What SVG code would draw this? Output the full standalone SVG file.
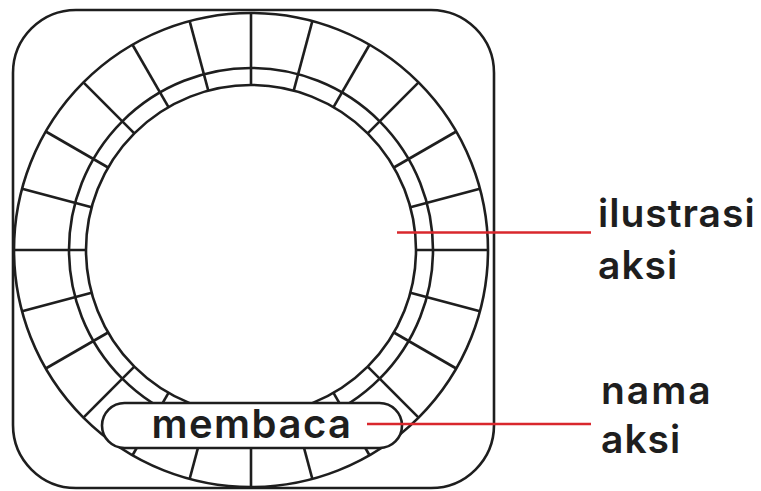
<svg xmlns="http://www.w3.org/2000/svg" xmlns:xlink="http://www.w3.org/1999/xlink" width="761" height="491" viewBox="0 0 761 491">
  <style>
    .ink { fill: none; stroke: #1e1e1e; stroke-width: 2.6; }
    .pill { fill: #ffffff; stroke: #1e1e1e; stroke-width: 2.6; }
    .leader { fill: none; stroke: #d9272d; stroke-width: 2.4; }
    .label { font-family: Inter, "Open Sans", sans-serif; font-weight: 600; fill: #1e1e1e; letter-spacing: 1px; }
  </style>
  <defs>
    <!-- one spoke of the dial, from the inner circle to the outer rim -->
    <line id="spoke" x1="416" y1="250" x2="488" y2="250"/>
  </defs>

  <!-- device frame -->
  <g id="frame">
    <rect class="ink" x="13" y="10" width="481" height="478" rx="63" ry="63" fill="#ffffff"/>
  </g>

  <!-- segmented dial ring -->
  <g id="dial" class="ink">
    <circle cx="251" cy="250" r="237"/>
    <circle cx="251" cy="250" r="182"/>
    <circle cx="251" cy="250" r="165"/>
    <use xlink:href="#spoke"/>
    <use xlink:href="#spoke" transform="rotate(15 251 250)"/>
    <use xlink:href="#spoke" transform="rotate(30 251 250)"/>
    <use xlink:href="#spoke" transform="rotate(45 251 250)"/>
    <use xlink:href="#spoke" transform="rotate(60 251 250)"/>
    <use xlink:href="#spoke" transform="rotate(75 251 250)"/>
    <use xlink:href="#spoke" transform="rotate(90 251 250)"/>
    <use xlink:href="#spoke" transform="rotate(105 251 250)"/>
    <use xlink:href="#spoke" transform="rotate(120 251 250)"/>
    <use xlink:href="#spoke" transform="rotate(135 251 250)"/>
    <use xlink:href="#spoke" transform="rotate(150 251 250)"/>
    <use xlink:href="#spoke" transform="rotate(165 251 250)"/>
    <use xlink:href="#spoke" transform="rotate(180 251 250)"/>
    <use xlink:href="#spoke" transform="rotate(195 251 250)"/>
    <use xlink:href="#spoke" transform="rotate(210 251 250)"/>
    <use xlink:href="#spoke" transform="rotate(225 251 250)"/>
    <use xlink:href="#spoke" transform="rotate(240 251 250)"/>
    <use xlink:href="#spoke" transform="rotate(255 251 250)"/>
    <use xlink:href="#spoke" transform="rotate(270 251 250)"/>
    <use xlink:href="#spoke" transform="rotate(285 251 250)"/>
    <use xlink:href="#spoke" transform="rotate(300 251 250)"/>
    <use xlink:href="#spoke" transform="rotate(315 251 250)"/>
    <use xlink:href="#spoke" transform="rotate(330 251 250)"/>
    <use xlink:href="#spoke" transform="rotate(345 251 250)"/>
  </g>

  <!-- action name badge -->
  <g id="action-name">
    <rect class="pill" x="102" y="403" width="300" height="45" rx="22.5" ry="22.5"/>
    <text class="label" x="252" y="438" font-size="40" text-anchor="middle" style="letter-spacing:1.5px">membaca</text>
  </g>

  <!-- leader lines -->
  <g id="connectors" class="leader">
    <line x1="397" y1="232.5" x2="591" y2="232.5"/>
    <line x1="367" y1="424" x2="591" y2="424"/>
  </g>

  <!-- callout labels -->
  <g id="label-illustration">
    <text class="label" x="598" y="227" font-size="39">ilustrasi</text>
    <text class="label" x="598" y="279" font-size="39">aksi</text>
  </g>
  <g id="label-name">
    <text class="label" x="601" y="404" font-size="39" style="letter-spacing:2px">nama</text>
    <text class="label" x="601" y="453" font-size="39">aksi</text>
  </g>
</svg>
